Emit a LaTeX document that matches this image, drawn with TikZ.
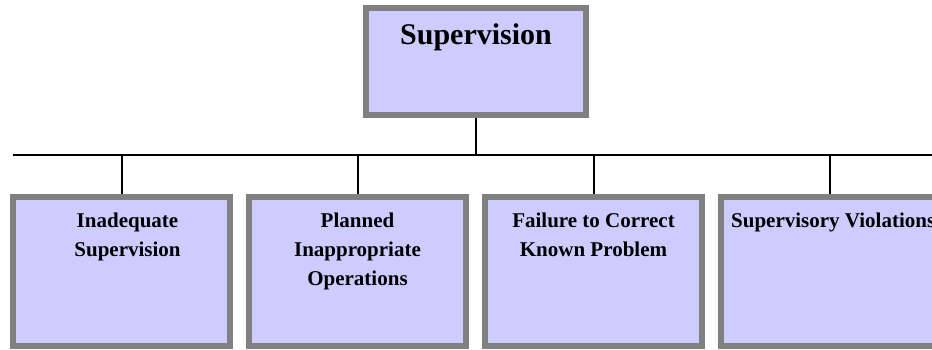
\documentclass[tikz,border=0pt]{standalone}
\usepackage{fontspec}
\setmainfont{Liberation Serif}
\usetikzlibrary{positioning}
\definecolor{boxgray}{RGB}{128,128,128}
\definecolor{boxfill}{RGB}{204,204,255}
\tikzset{
    topbox/.style = {rectangle, draw=boxgray, fill=boxfill, line width=6pt, minimum width=220pt, minimum height=107pt, inner sep=0pt},
    subbox/.style = {rectangle, draw=boxgray, fill=boxfill, line width=6pt, minimum width=217pt, minimum height=149pt, inner sep=0pt},
    toptext/.style = {font=\fontsize{30}{36}\selectfont\bfseries, inner sep=0pt},
    subtext/.style = {font=\fontsize{21}{29}\selectfont\bfseries, align=center, inner sep=0pt},
    link/.style = {line width=2pt, black}
}
\begin{document}
\begin{tikzpicture}[x=1pt, y=1pt]
\useasboundingbox (0,0) rectangle (932,-350);

\node (supv) [topbox] at (476,-61.5) {};
\node (inadeq) [subbox] at (121.5,-271.5) {};
\node (planned) [subbox, right=13pt of inadeq] {};
\node (failure) [subbox, right=13pt of planned] {};
\node (violate) [subbox, right=13pt of failure] {};

% Connectors
\coordinate (busL) at (13,-155);
\coordinate (busR) at (932,-155);
\draw [link] (busL) -- (busR);
\draw [link] (supv.south) -- (supv.south |- busL);
\foreach \n in {inadeq, planned, failure, violate}
    \draw [link] (\n.north) -- (\n.north |- busL);

% Labels
\node (supvT) [toptext, anchor=base] at (476,-45) {Supervision};
\node (inadeqT) [subtext, below=19pt of inadeq.north, xshift=6pt] {Inadequate\\Supervision};
\node (plannedT) [subtext, below=19pt of planned.north] {Planned\\Inappropriate\\Operations};
\node (failureT) [subtext, below=19pt of failure.north] {Failure to Correct\\Known Problem};
\node (violateT) [subtext, anchor=north west] at ([xshift=13pt, yshift=-19pt]violate.north west) {Supervisory Violations};

\end{tikzpicture}
\end{document}
